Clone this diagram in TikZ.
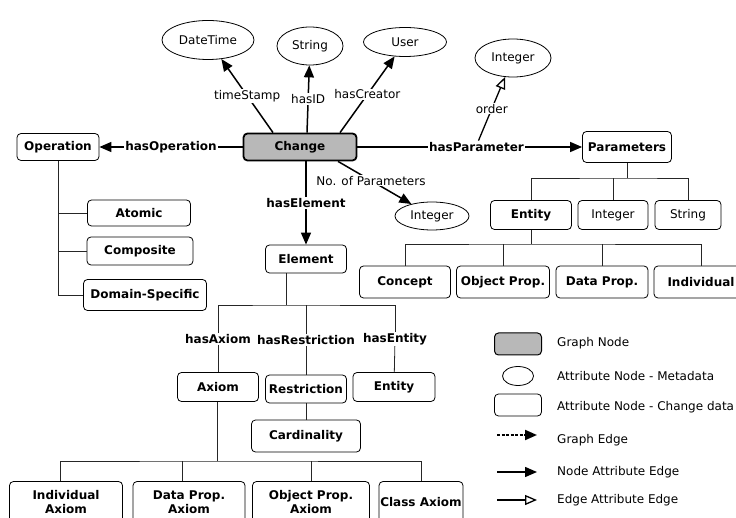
\documentclass[tikz,border=0pt]{standalone}
\usepackage{fontspec}
\setmainfont{DejaVu Sans}
\usetikzlibrary{arrows.meta,positioning,shapes.geometric}
\newcommand\dgfont{\fontsize{12}{13.5}\selectfont}
\tikzset{
  box/.style       = {draw, rounded corners=4pt, fill=white, inner sep=1pt, line width=0.8pt, font=\dgfont\bfseries},
  plainbox/.style  = {box, font=\dgfont},
  graphnode/.style = {box, fill=black!28, line width=1.8pt},
  meta/.style      = {draw, ellipse, inner sep=0pt, fill=white, line width=0.8pt, font=\dgfont},
  attr/.style      = {-{Triangle[length=12pt,width=10pt]}, line width=1.5pt},
  eattr/.style     = {-{Triangle[open,length=12pt,width=10pt]}, line width=1.3pt},
  tree/.style      = {line width=0.8pt, draw=black!85},
  lbl/.style       = {fill=white, inner sep=1pt, font=\dgfont},
  blbl/.style      = {lbl, font=\dgfont\bfseries},
  legtext/.style   = {anchor=west, inner sep=0pt, font=\dgfont}
}

\begin{document}
\begin{tikzpicture}[x=1pt, y=-1pt]
  \clip (0,0) rectangle (736,518);

  % central graph node
  \node[graphnode, minimum width=113pt, minimum height=27pt] (ch) at (300,147) {Change};

  % metadata
  \node[meta, minimum width=92pt, minimum height=39pt] (dt)  at (208,40) {DateTime};
  \node[meta, minimum width=66pt, minimum height=38pt] (str) at (310,46) {String};
  \node[meta, minimum width=83pt, minimum height=29pt] (usr) at (405,42) {User};
  \node[meta, minimum width=76pt, minimum height=38pt] (ordint) at (513,58) {Integer};
  \node[meta, minimum width=74pt, minimum height=28pt] (npint)  at (432,216) {Integer};

  \draw[attr] ([xshift=-27pt]ch.north) -- node[lbl] {timeStamp} (dt);
  \draw[attr] ([xshift=7pt]ch.north) -- node[lbl] {hasID} (str);
  \draw[attr] ([xshift=40pt]ch.north) -- node[lbl] {hasCreator} (usr);
  \draw[attr] ([xshift=38pt]ch.south) -- node[lbl, pos=.45] {No. of Parameters} (npint);

  % operation
  \node[box, minimum width=82pt, minimum height=27pt] (op) at (58,147) {Operation};
  \node[box, minimum width=103pt, minimum height=26pt] (atom) at (139,213) {Atomic};
  \node[box, minimum width=106pt, minimum height=28pt] (comp) at (140,251) {Composite};
  \node[box, minimum width=123pt, minimum height=31pt] (dom)  at (145,295) {Domain-Specific};

  \draw[attr] (ch) -- node[blbl] {hasOperation} (op);
  \draw[tree] (op.south) |- (dom.west);
  \draw[tree] (op.south |- atom.west) -- (atom.west);
  \draw[tree] (op.south |- comp.west) -- (comp.west);

  % parameters
  \node[box, minimum width=89pt, minimum height=31pt] (pa) at (627,147) {Parameters};
  \node[box, minimum width=81pt, minimum height=29pt] (ep) at (531,215) {Entity};
  \node[plainbox, minimum width=70pt, minimum height=29pt] (pint) at (613,215) {Integer};
  \node[plainbox, minimum width=66pt, minimum height=29pt] (pstr) at (688,215) {String};
  \node[box, minimum width=91pt, minimum height=32pt] (con)  at (405,282) {Concept};
  \node[box, minimum width=93pt, minimum height=32pt] (objp) at (503,282) {Object Prop.};
  \node[box, minimum width=92pt, minimum height=32pt] (datp) at (602,282) {Data Prop.};
  \node[box, minimum width=94pt, minimum height=32pt] (ind)  at (701,282) {Individual};

  \draw[attr] (ch) -- node[blbl, pos=.53] (hpl) {hasParameter} (pa);
  \draw[eattr] ([xshift=2pt]hpl.north) -- node[lbl] {order} (ordint);

  \coordinate (pj) at (627,178);
  \draw[tree] (pa.south) -- (pj);
  \draw[tree] (ep.north) |- (pj) -| (pstr.north);
  \draw[tree] (pint.north) -- (pint.north |- pj);
  \coordinate (ej) at (531,244);
  \draw[tree] (ep.south) -- (ej);
  \draw[tree] (con.north) |- (ej) -| (ind.north);
  \draw[tree] (objp.north) -- (objp.north |- ej);
  \draw[tree] (datp.north) -- (datp.north |- ej);

  % element
  \node[box, minimum width=81pt, minimum height=28pt] (el) at (306,259) {Element};
  \node[box, minimum width=81pt, minimum height=29pt] (ax) at (218,387) {Axiom};
  \node[box, minimum width=81pt, minimum height=28pt] (rs) at (306,389) {Restriction};
  \node[box, minimum width=82pt, minimum height=29pt] (en) at (394,387) {Entity};
  \node[box, minimum width=109pt, minimum height=32pt] (card) at (306,436) {Cardinality};

  \draw[attr] (ch.south -| el) -- node[blbl] {hasElement} (el);

  \coordinate (lj) at (286,305);
  \node[blbl] (hax) at (218,339) {hasAxiom};
  \node[blbl] (hrs) at (306,340) {hasRestriction};
  \node[blbl] (hen) at (395,339) {hasEntity};
  \draw[tree] (el.south -| lj) -- (lj);
  \draw[tree] (hax) |- (lj) -| (hen);
  \draw[tree] (hrs) -- (hrs |- lj);
  \draw[tree] (hax) -- (ax);
  \draw[tree] (hrs) -- (rs);
  \draw[tree] (hen) -- (en);
  \draw[tree] (rs) -- (card);

  % axiom kinds
  \node[box, align=center, minimum width=113pt, minimum height=41pt] (iax) at (66,502) {Individual\\Axiom};
  \node[box, align=center, minimum width=112pt, minimum height=41pt] (dax) at (189,502) {Data Prop.\\Axiom};
  \node[box, align=center, minimum width=117pt, minimum height=41pt] (oax) at (311,502) {Object Prop.\\Axiom};
  \node[box, minimum width=84pt, minimum height=41pt] (cax) at (421,502) {Class Axiom};

  \coordinate (aj) at (217,461);
  \draw[tree] (ax.south -| aj) -- (aj);
  \draw[tree] ([xshift=-6pt]iax.north) |- (aj) -| (cax.north);
  \draw[tree] ([xshift=-7pt]dax.north) -- ([xshift=-7pt]dax.north |- aj);
  \draw[tree] (oax.north) -- (oax.north |- aj);

  % legend
  \node[graphnode, line width=1pt, minimum width=47pt, minimum height=22pt] (lgn) at (518,344) {};
  \node[meta, minimum width=31pt, minimum height=19pt] (lmd) at (518,376) {};
  \node[box, minimum width=47pt, minimum height=22pt] (lcd) at (518,405) {};
  \coordinate (ge1) at (497,435);  \coordinate (ge2) at (537,435);
  \coordinate (na1) at (497,472);  \coordinate (na2) at (537,472);
  \coordinate (ea1) at (497,500);  \coordinate (ea2) at (537,500);
  \draw[attr, line width=2pt, dash pattern=on 3pt off 1.5pt] (ge1) -- (ge2);
  \draw[attr] (na1) -- (na2);
  \draw[eattr] (ea1) -- (ea2);

  \node[legtext] (tgn) at (557,343) {Graph Node};
  \node[legtext] (tmd) at (557,376) {Attribute Node - Metadata};
  \node[legtext] (tcd) at (557,407) {Attribute Node - Change data};
  \node[legtext] (tge) at (557,440) {Graph Edge};
  \node[legtext] (tna) at (557,472) {Node Attribute Edge};
  \node[legtext] (tea) at (557,500) {Edge Attribute Edge};
\end{tikzpicture}
\end{document}
